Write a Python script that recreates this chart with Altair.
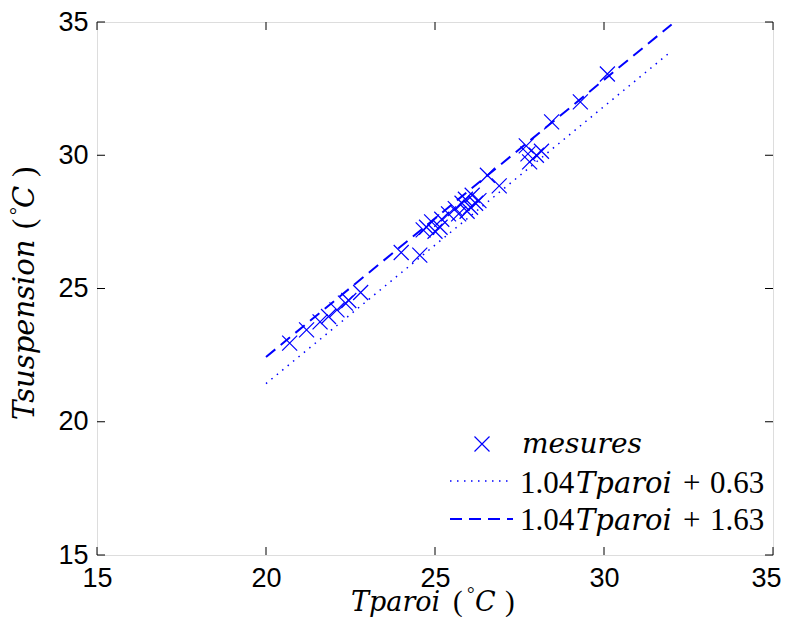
import altair as alt
import pandas as pd

# measured points: wall temperature (Tparoi) vs suspension temperature
tparoi = [20.7, 21.2, 21.6, 21.85, 22.1, 22.35, 22.45, 22.8,
          24.0, 24.55, 24.65, 24.75, 24.9, 25.0, 25.15, 25.2, 25.4,
          25.6, 25.7, 25.8, 25.9, 25.95, 26.05, 26.1, 26.2, 26.3,
          26.55, 26.9, 27.7, 27.75, 27.8, 28.0, 28.15, 28.45, 29.3, 30.1]
tsusp = [22.95, 23.45, 23.75, 23.95, 24.2, 24.45, 24.55, 24.85,
         26.35, 26.25, 27.2, 27.3, 27.5, 27.15, 27.3, 27.6, 27.8,
         28.0, 27.8, 28.2, 28.35, 27.9, 28.05, 28.5, 28.2, 28.3,
         29.25, 28.85, 30.35, 30.05, 29.75, 30.0, 30.15, 31.25, 32.0, 33.05]

fit_x = [20, 32]
fit_low = [21.43, 33.91]    # 1.04 Tparoi + 0.63
fit_high = [22.43, 34.91]   # 1.04 Tparoi + 1.63
tick_vals = [15, 20, 25, 30, 35]

W, H = 676, 533
BLUE = "#0000ff"
XSHAPE = "M-1,-1L1,1M-1,1L1,-1"

pts = pd.DataFrame({"x": tparoi, "y": tsusp})
lines = pd.DataFrame({"x": fit_x, "low": fit_low, "high": fit_high})
ticks = pd.DataFrame({"v": tick_vals})

xs = alt.Scale(domain=[15, 35], nice=False, zero=False)
ys = alt.Scale(domain=[15, 35], nice=False, zero=False)

xaxis = alt.Axis(values=tick_vals, ticks=False, domain=False, grid=False,
                 labelFont="Liberation Sans", labelFontSize=27, labelColor="black",
                 labelPadding=10, labelFlush=False, title=None,
                 labelAlign={"expr": "datum.value == 35 ? 'right' : 'center'"},
                 labelOffset={"expr": "datum.value == 35 ? 8 : 0"})
yaxis = alt.Axis(values=tick_vals, ticks=False, domain=False, grid=False,
                 labelFont="Liberation Sans", labelFontSize=27, labelColor="black",
                 labelPadding=9, labelFlush=False, title=None)

X = alt.X("x:Q", scale=xs, axis=xaxis)

scatter = alt.Chart(pts).mark_point(shape=XSHAPE, size=225, color=BLUE,
                                    strokeWidth=1.2, opacity=1, filled=False).encode(
    x=X, y=alt.Y("y:Q", scale=ys, axis=yaxis))

dotted = alt.Chart(lines).mark_line(color=BLUE, strokeWidth=1.5, strokeDash=[1.5, 5.5]).encode(
    x=X, y=alt.Y("low:Q", scale=ys, axis=yaxis))
dashed = alt.Chart(lines).mark_line(color=BLUE, strokeWidth=2, strokeDash=[12, 7]).encode(
    x=X, y=alt.Y("high:Q", scale=ys, axis=yaxis))

TL = 8
tb = alt.Chart(ticks).mark_rule(color="black", strokeWidth=1).encode(
    x=alt.X("v:Q", scale=xs, axis=xaxis), y=alt.value(H), y2=alt.value(H - TL))
tt = alt.Chart(ticks).mark_rule(color="black", strokeWidth=1).encode(
    x=alt.X("v:Q", scale=xs, axis=xaxis), y=alt.value(0), y2=alt.value(TL))
tl = alt.Chart(ticks).mark_rule(color="black", strokeWidth=1).encode(
    y=alt.Y("v:Q", scale=ys, axis=yaxis), x=alt.value(0), x2=alt.value(TL))
tr = alt.Chart(ticks).mark_rule(color="black", strokeWidth=1).encode(
    y=alt.Y("v:Q", scale=ys, axis=yaxis), x=alt.value(W), x2=alt.value(W - TL))

ONE = alt.Data(values=[{}])
ITAL = "DejaVu Serif"
ROMAN = "Liberation Serif"


def txt(text, x, y, size=31, style="normal", angle=0, font=ROMAN):
    return alt.Chart(ONE).mark_text(text=text, font=font, fontSize=size, fontStyle=style,
                                    angle=angle, align="left", baseline="alphabetic",
                                    color="black").encode(x=alt.value(x), y=alt.value(y))


def it(text, x, y, size=29, angle=0):
    return txt(text, x, y, size, "italic", angle, ITAL)


# x-axis title: Tparoi ( °C)
xt_y = 589
xtitle = [
    it("Tparoi", 254, xt_y, 27),
    txt("(", 356, xt_y, 29),
    txt("\u00b0", 370, xt_y - 11, 19),
    it("C", 378, xt_y, 27),
    txt(")", 408, xt_y, 29),
]

# y-axis title: Tsuspension ( °C), rotated
yt_x = -63
ytitle = [
    it("Tsuspension", yt_x, 398, angle=270),
    txt("(", yt_x, 207, angle=270),
    txt("\u00b0", yt_x - 10, 193, 20, angle=270),
    it("C", yt_x, 186, angle=270),
    txt(")", yt_x, 155, angle=270),
]

# legend
leg_marker = alt.Chart(ONE).mark_point(shape=XSHAPE, size=225, color=BLUE, strokeWidth=1.2,
                                       opacity=1, filled=False).encode(
    x=alt.value(385), y=alt.value(422))
leg_dot = alt.Chart(ONE).mark_rule(color=BLUE, strokeWidth=1.5, strokeDash=[1.5, 5.5]).encode(
    x=alt.value(353), x2=alt.value(411), y=alt.value(459))
leg_dash = alt.Chart(ONE).mark_rule(color=BLUE, strokeWidth=2, strokeDash=[12, 7]).encode(
    x=alt.value(353), x2=alt.value(416), y=alt.value(497))

legend = [
    leg_marker, leg_dot, leg_dash,
    it("mesures", 425, 431, 28),
    txt("1.04", 423, 471),
    it("Tparoi", 479, 471),
    txt("+", 586, 471),
    txt("0.63", 613, 471),
    txt("1.04", 423, 508),
    it("Tparoi", 479, 508),
    txt("+", 586, 508),
    txt("1.63", 613, 508),
]

chart = alt.layer(
    dotted, dashed, scatter, tb, tt, tl, tr, *xtitle, *ytitle, *legend
).properties(
    width=W, height=H,
    autosize=alt.AutoSizeParams(type="none"),
    padding={"left": 89, "top": 14, "right": 9, "bottom": 62},
).configure_view(
    stroke="black", strokeWidth=1.2
).configure(background="white")

chart.save("out.html", embed_options={"renderer": "svg", "actions": False})
